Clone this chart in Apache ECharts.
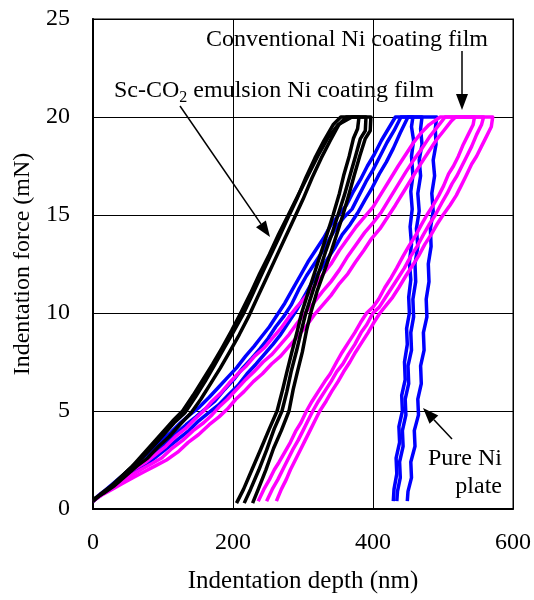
<!DOCTYPE html>
<html lang="en">
<head>
    <meta charset="UTF-8">
    <title>Indentation curves</title>
    <script src="https://cdn.jsdelivr.net/npm/echarts@6/dist/echarts.min.js"></script>
</head>
<body style="margin:0">
<div id="main" style="width: 534px;height:600px;"></div>
<script type="text/javascript">
    // axis ticks
    var xTicks = [0, 200, 400, 600];
    var yTicks = [0, 5, 10, 15, 20, 25];

    // Sc-CO2 emulsion Ni coating film, [depth nm, force mN]: loading, hold, unloading
    var sc1 = [[0,0.4],[12,0.8],[27,1.2],[42,1.7],[57,2.2],[70,2.6],[86,3.2],[101,3.8],[116,4.4],[131,4.9],[146,5.7],[160,6.5],[173,7.3],[187,8.2],[200,9.0],[214,9.9],[226,10.8],[240,11.9],[253,12.9],[265,13.8],[279,14.9],[291,15.8],[304,16.9],[317,17.9],[330,18.8],[343,19.6],[354,20.0],
        [380,20.0],[378,19.4],[372,18.9],[366,18.0],[358,17.0],[352,16.1],[343,15.0],[335,14.1],[325,13.0],[317,12.1],[307,11.0],[298,10.0],[292,9.1],[284,8.0],[277,7.0],[271,6.1],[263,5.0],[252,4.1],[239,3.0],[227,2.0],[215,1.0],[205,0.3]];
    var sc2 = [[0,0.5],[15,0.8],[31,1.2],[47,1.7],[63,2.2],[78,2.6],[94,3.2],[109,3.7],[124,4.3],[140,4.9],[154,5.6],[168,6.4],[182,7.2],[195,8.0],[209,8.9],[222,9.8],[235,10.8],[248,11.8],[261,12.8],[274,13.8],[287,14.8],[300,15.8],[313,16.9],[326,17.9],[339,18.8],[351,19.6],[362,20.0],
        [390,20.0],[389,19.3],[382,18.9],[375,18.0],[367,17.0],[359,16.0],[350,15.0],[341,14.0],[332,13.1],[322,12.0],[313,11.0],[304,10.0],[297,9.0],[291,8.1],[283,7.0],[277,6.0],[270,5.0],[259,4.1],[248,3.0],[237,2.0],[225,1.0],[216,0.3]];
    var sc3 = [[0,0.4],[10,0.7],[24,1.1],[39,1.6],[54,2.1],[69,2.7],[84,3.3],[99,3.9],[114,4.5],[128,5.0],[143,5.8],[157,6.6],[171,7.4],[184,8.2],[198,9.1],[211,10.0],[225,11.0],[238,12.0],[252,13.0],[265,14.0],[279,15.0],[293,16.0],[307,17.0],[321,18.0],[335,18.9],[350,19.6],[370,20.0],
        [397,20.0],[396,19.3],[389,18.9],[381,18.0],[373,17.0],[366,16.1],[357,15.0],[348,14.0],[339,13.0],[329,12.0],[320,11.1],[311,10.0],[305,9.1],[299,8.0],[292,7.0],[286,6.1],[280,5.0],[269,4.0],[258,3.1],[247,2.0],[236,1.0],[228,0.3]];

    // Conventional Ni coating film
    var conv1 = [[0,0.4],[9,0.7],[21,1.0],[34,1.4],[48,1.8],[62,2.1],[76,2.4],[90,2.8],[104,3.2],[118,3.7],[132,4.1],[146,4.6],[158,5.0],[170,5.5],[182,5.9],[194,6.4],[207,6.9],[219,7.3],[231,7.8],[244,8.2],[256,8.7],[268,9.2],[280,9.8],[291,10.3],[303,10.8],[315,11.3],[327,11.9],[340,12.5],[352,13.2],[364,13.8],[376,14.4],[388,14.9],[400,15.4],[412,16.1],[424,16.8],[436,17.5],[447,18.1],[458,18.7],[469,19.2],[480,19.6],[496,20.0],
        [545,20.0],[543,19.6],[536,19.1],[529,18.6],[522,18.0],[515,17.5],[508,17.1],[501,16.5],[494,16.0],[486,15.5],[477,15.0],[469,14.5],[460,13.9],[451,13.4],[443,12.9],[434,12.3],[426,11.8],[417,11.3],[408,10.7],[400,10.3],[391,10.0],[382,9.5],[374,9.0],[365,8.5],[356,8.0],[348,7.5],[339,6.9],[331,6.5],[322,6.0],[313,5.5],[305,5.0],[297,4.4],[290,4.0],[282,3.4],[274,2.9],[266,2.4],[259,2.0],[252,1.5],[244,1.0],[236,0.4]];
    var conv2 = [[0,0.4],[10,0.7],[24,1.0],[38,1.3],[53,1.7],[68,2.0],[83,2.3],[98,2.6],[113,3.1],[128,3.5],[143,4.0],[158,4.4],[170,4.8],[180,5.2],[192,5.6],[205,6.1],[218,6.6],[230,7.0],[243,7.5],[256,7.9],[268,8.4],[280,8.9],[292,9.5],[303,10.0],[315,10.5],[328,11.1],[340,11.6],[352,12.2],[364,12.9],[376,13.5],[388,14.1],[400,14.6],[411,15.1],[423,15.8],[435,16.5],[447,17.2],[458,17.8],[470,18.4],[481,19.0],[492,19.5],[503,20.0],
        [558,20.0],[555,19.6],[548,19.1],[541,18.5],[534,18.0],[527,17.5],[520,17.0],[513,16.6],[506,16.1],[498,15.6],[489,15.0],[480,14.5],[472,14.0],[463,13.4],[454,12.9],[445,12.3],[436,11.8],[427,11.3],[418,10.8],[409,10.3],[400,10.0],[391,9.4],[383,9.0],[374,8.4],[365,7.9],[357,7.4],[348,7.0],[340,6.5],[331,6.0],[322,5.5],[314,5.0],[307,4.5],[300,4.0],[293,3.5],[285,3.0],[278,2.5],[271,2.0],[264,1.5],[256,1.0],[248,0.4]];
    var conv3 = [[0,0.4],[12,0.7],[27,1.0],[42,1.3],[57,1.6],[73,1.9],[89,2.2],[105,2.5],[121,2.9],[136,3.4],[151,3.8],[166,4.3],[180,4.7],[192,5.1],[204,5.6],[216,6.0],[229,6.5],[242,6.9],[255,7.4],[268,7.8],[280,8.3],[292,8.8],[304,9.3],[316,9.9],[328,10.4],[340,10.9],[352,11.5],[364,12.0],[375,12.6],[387,13.2],[398,13.8],[410,14.3],[421,14.9],[432,15.5],[444,16.2],[456,16.9],[468,17.6],[479,18.2],[490,18.8],[501,19.3],[512,19.8],[518,20.0],
        [571,20.0],[569,19.5],[562,19.0],[555,18.5],[548,18.0],[541,17.6],[533,17.0],[526,16.5],[519,16.0],[510,15.5],[500,15.0],[491,14.5],[483,14.0],[474,13.5],[465,12.9],[456,12.4],[447,11.9],[437,11.3],[428,10.8],[419,10.4],[410,10.0],[401,9.5],[393,9.0],[384,8.5],[375,8.0],[367,7.5],[358,7.0],[350,6.5],[341,6.0],[333,5.5],[324,5.0],[317,4.5],[310,4.0],[303,3.5],[296,3.0],[289,2.5],[282,2.0],[276,1.5],[269,1.0],[262,0.4]];

    // Pure Ni plate
    var pure1 = [[0,0.4],[8,0.7],[19,1.0],[32,1.4],[45,1.8],[58,2.2],[71,2.6],[84,3.0],[98,3.5],[111,3.9],[125,4.4],[138,4.8],[152,5.2],[166,5.7],[179,6.2],[192,6.7],[205,7.2],[218,7.8],[230,8.3],[241,8.8],[252,9.3],[263,9.9],[274,10.5],[285,11.2],[296,11.9],[307,12.6],[318,13.2],[329,13.8],[340,14.5],[351,15.0],[362,15.5],[372,16.2],[382,16.8],[392,17.5],[402,18.1],[412,18.8],[422,19.4],[432,20.0],
        [457,20.0],[455,19.5],[458,18.8],[455,18.0],[457,17.0],[454,16.2],[456,15.3],[453,14.4],[455,13.5],[452,12.6],[454,11.7],[451,10.8],[452,10.0],[448,9.2],[449,8.4],[445,7.5],[446,6.6],[441,5.8],[442,5.0],[437,4.2],[438,3.4],[433,2.6],[434,1.8],[430,1.0],[429,0.4]];
    var pure2 = [[0,0.4],[10,0.7],[22,1.0],[36,1.4],[50,1.8],[64,2.1],[78,2.5],[92,2.9],[106,3.4],[120,3.9],[133,4.3],[147,4.7],[160,5.1],[174,5.5],[188,6.1],[201,6.6],[214,7.2],[227,7.7],[239,8.2],[250,8.7],[261,9.3],[272,9.8],[283,10.4],[294,11.2],[305,11.9],[316,12.5],[327,13.1],[338,13.8],[348,14.4],[359,14.9],[370,15.3],[380,16.0],[390,16.7],[400,17.3],[410,18.0],[420,18.7],[430,19.3],[440,20.0],
        [470,20.0],[468,19.4],[470,18.6],[466,17.8],[468,17.0],[464,16.1],[466,15.2],[462,14.3],[464,13.4],[460,12.5],[461,11.6],[457,10.7],[458,9.8],[454,9.0],[455,8.1],[450,7.3],[451,6.4],[446,5.6],[447,4.8],[442,4.0],[443,3.2],[438,2.4],[439,1.6],[435,0.9],[434,0.4]];
    var pure3 = [[0,0.4],[11,0.7],[24,1.0],[38,1.3],[52,1.7],[67,2.0],[81,2.4],[95,2.8],[109,3.2],[123,3.6],[137,4.0],[151,4.5],[165,4.9],[179,5.3],[193,5.8],[207,6.3],[220,6.9],[233,7.4],[245,7.9],[257,8.4],[268,8.9],[279,9.5],[290,10.1],[301,10.8],[312,11.5],[323,12.1],[334,12.7],[345,13.3],[356,14.0],[367,14.5],[378,15.1],[389,15.8],[399,16.4],[409,17.1],[419,17.7],[429,18.4],[439,19.2],[450,20.0],
        [491,20.0],[489,19.4],[490,18.6],[486,17.8],[488,17.0],[484,16.1],[486,15.2],[482,14.3],[483,13.4],[479,12.5],[480,11.6],[476,10.7],[477,9.8],[472,9.0],[473,8.1],[468,7.3],[469,6.4],[464,5.6],[465,4.8],[459,4.0],[460,3.2],[454,2.4],[455,1.6],[450,0.9],[449,0.4]];

    var FONT = 'Liberation Serif';

    // arrow = line + filled head, pixel coords
    function arrow(x1, y1, x2, y2) {
        var a = Math.atan2(y2 - y1, x2 - x1), L = 16, W = 6;
        var bx = x2 - L * Math.cos(a), by = y2 - L * Math.sin(a);
        return [
            {type: 'line', shape: {x1: x1, y1: y1, x2: bx, y2: by}, style: {stroke: '#000', lineWidth: 1.5}},
            {type: 'polygon', shape: {points: [[x2, y2], [bx + W * Math.sin(a), by - W * Math.cos(a)], [bx - W * Math.sin(a), by + W * Math.cos(a)]]}, style: {fill: '#000'}}
        ];
    }

    function curve(data, color) {
        return {
            type: 'line',
            data: data,
            showSymbol: false,
            symbol: 'none',
            silent: true,
            lineStyle: {color: color, width: 3.5, join: 'round'},
            animation: false
        };
    }

    var myChart = echarts.init(document.getElementById('main'));
    var option = {
        animation: false,
        grid: {left: 93, right: 21, top: 19, bottom: 91, show: true, borderColor: '#808080', borderWidth: 2},
        xAxis: {
            type: 'value', min: xTicks[0], max: xTicks[xTicks.length - 1], interval: 200,
            name: 'Indentation depth (nm)', nameLocation: 'middle', nameGap: 60,
            nameTextStyle: {fontFamily: FONT, fontSize: 25, color: '#000'},
            axisLine: {lineStyle: {color: '#000', width: 2}},
            axisTick: {show: false},
            axisLabel: {fontFamily: FONT, fontSize: 24, color: '#000', margin: 22},
            splitLine: {lineStyle: {color: '#000', width: 1}}
        },
        yAxis: {
            type: 'value', min: yTicks[0], max: yTicks[yTicks.length - 1], interval: 5,
            name: 'Indentation force (mN)', nameLocation: 'middle', nameGap: 58,
            nameTextStyle: {fontFamily: FONT, fontSize: 24, color: '#000'},
            axisLine: {show: true, lineStyle: {color: '#000', width: 2}},
            axisTick: {show: true, inside: true, length: 6, lineStyle: {color: '#000'}},
            axisLabel: {fontFamily: FONT, fontSize: 24, color: '#000', margin: 23},
            splitLine: {lineStyle: {color: '#000', width: 1}}
        },
        series: [
            curve(pure1, '#0000ff'), curve(pure2, '#0000ff'), curve(pure3, '#0000ff'),
            curve(conv1, '#ff00ff'), curve(conv2, '#ff00ff'), curve(conv3, '#ff00ff'),
            curve(sc1, '#000000'), curve(sc2, '#000000'), curve(sc3, '#000000')
        ],
        graphic: [].concat(
            [{
                type: 'text', x: 347, y: 40,
                style: {text: 'Conventional Ni coating film', font: '24px "Liberation Serif"', fill: '#000', textAlign: 'center', textVerticalAlign: 'middle'}
            }, {
                type: 'text', x: 114, y: 91,
                style: {
                    text: '{a|Sc-CO}{s|2}{a| emulsion Ni coating film}',
                    textAlign: 'left', textVerticalAlign: 'middle',
                    rich: {
                        a: {fontFamily: FONT, fontSize: 24, lineHeight: 30, fill: '#000', verticalAlign: 'middle'},
                        s: {fontFamily: FONT, fontSize: 16, lineHeight: 30, fill: '#000', verticalAlign: 'bottom'}
                    }
                }
            }, {
                type: 'text', x: 502, y: 445,
                style: {text: 'Pure Ni\nplate', font: '24px "Liberation Serif"', lineHeight: 28, fill: '#000', textAlign: 'right', textVerticalAlign: 'top'}
            }],
            arrow(180, 106, 270, 237),
            arrow(462, 51, 462, 110),
            arrow(452, 439, 423, 408)
        )
    };
    myChart.setOption(option);
</script>
</body>
</html>
